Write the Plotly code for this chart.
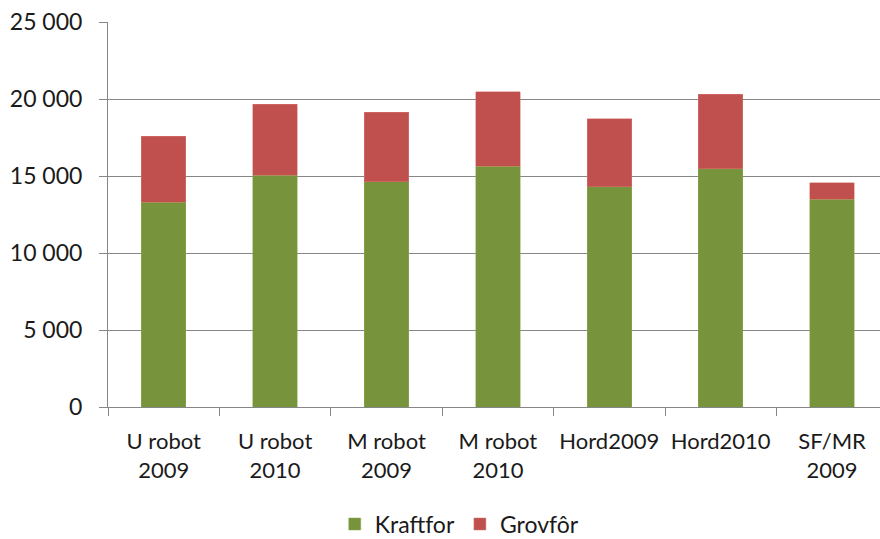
import plotly.graph_objects as go

categories = ["U robot<br>2009", "U robot<br>2010", "M robot<br>2009", "M robot<br>2010",
              "Hord2009", "Hord2010", "SF/MR<br>2009"]
kraftfor = [13290, 15050, 14640, 15640, 14310, 15480, 13480]
grovfor = [4280, 4610, 4500, 4840, 4410, 4830, 1070]
y_ticks = [0, 5000, 10000, 15000, 20000, 25000]

FONT = "Lato, 'Open Sans', sans-serif"

fig = go.Figure()
fig.add_trace(go.Bar(x=categories, y=kraftfor, name="Kraftfor",
                     marker=dict(color="#77933C", line=dict(color="#8fae52", width=0.5))))
fig.add_trace(go.Bar(x=categories, y=grovfor, name="Grovfôr",
                     marker=dict(color="#C0504D", line=dict(color="#d97a77", width=0.5))))

fig.update_layout(
    barmode="stack",
    bargap=0.6,
    width=880, height=556,
    margin=dict(l=108, r=0, t=22, b=149),
    paper_bgcolor="white", plot_bgcolor="white",
    separators=", ",
    font=dict(family=FONT, size=22, color="#1a1a1a"),
    legend=dict(orientation="h", x=0.455, xanchor="center", y=-0.304, yanchor="middle",
                font=dict(size=23), itemwidth=30, traceorder="normal"),
    showlegend=True,
)
fig.update_xaxes(
    range=[-0.5, 6.43], showline=True, linecolor="#868686", linewidth=1,
    ticks="outside", ticklen=8, tickcolor="#868686", tickson="boundaries",
    showgrid=False, tickfont=dict(size=22), ticklabelstandoff=15,
    tickangle=0, automargin=False, ticklabeloverflow="allow",
)
fig.update_yaxes(
    range=[0, 25000], tickvals=y_ticks, tickformat=",d",
    showline=True, linecolor="#868686", linewidth=1,
    ticks="outside", ticklen=8, tickcolor="#868686",
    showgrid=True, gridcolor="#868686", gridwidth=1,
    tickfont=dict(size=23), ticklabelstandoff=12, zeroline=False,
    automargin=False, ticklabeloverflow="allow",
)
fig.write_html(
    "out.html",
    config={"displayModeBar": False},
    post_script=(
        "var h=document.documentElement,b=document.body;"
        "[h,b].forEach(function(e){e.style.margin='0';e.style.padding='0';"
        "e.style.overflow='hidden';e.style.height='539px';e.style.width='880px';});"
    ),
)
